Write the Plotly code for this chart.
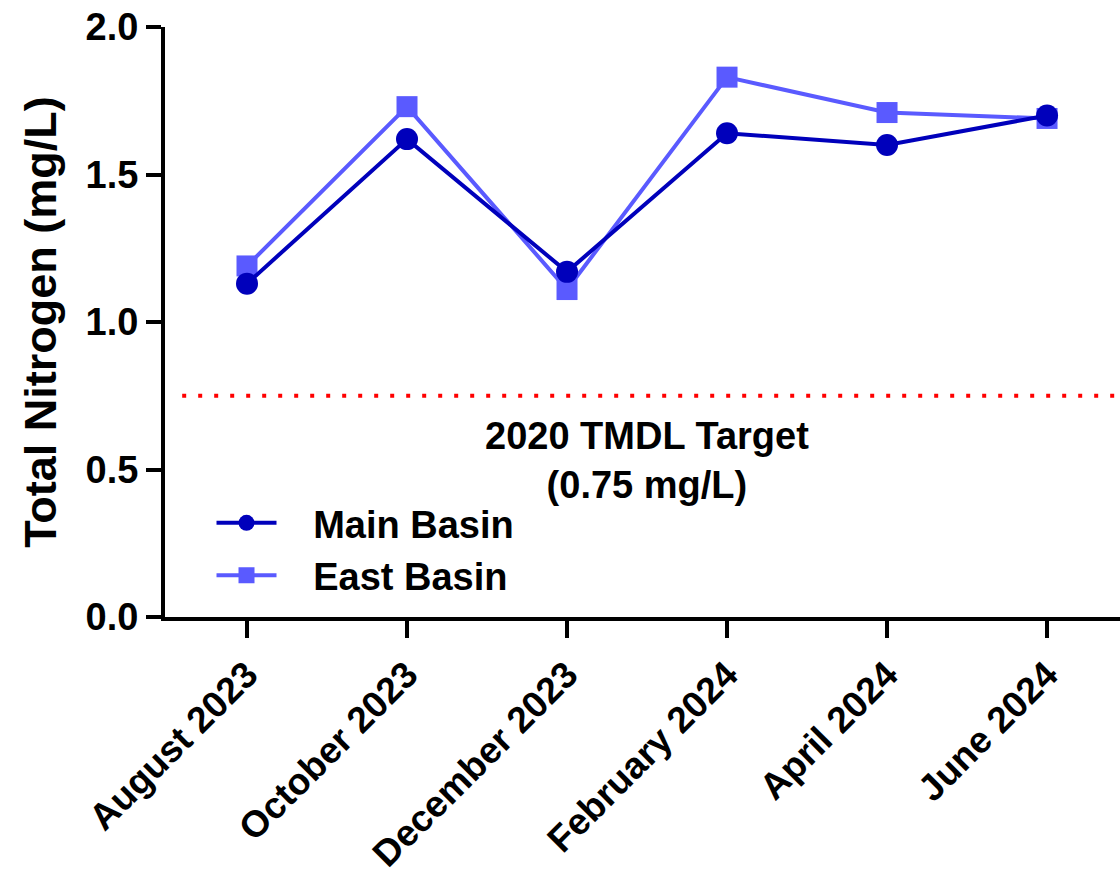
import plotly.graph_objects as go

months = ["August 2023", "October 2023", "December 2023", "February 2024", "April 2024", "June 2024"]
main_basin = [1.13, 1.62, 1.17, 1.64, 1.60, 1.70]
east_basin = [1.19, 1.73, 1.11, 1.83, 1.71, 1.69]
target_value = 0.75
target_label = "2020 TMDL Target<br>(0.75 mg/L)"
y_ticks = [0.0, 0.5, 1.0, 1.5, 2.0]
y_tick_text = ["0.0", "0.5", "1.0", "1.5", "2.0"]

MAIN_COLOR = "#0000BB"
EAST_COLOR = "#5A5AFF"
FONT = "Liberation Sans, Arial, sans-serif"
GAP = "\u00a0\u00a0\u00a0"

fig = go.Figure()
fig.add_trace(go.Scatter(
    x=months, y=east_basin, name=GAP + "East Basin", mode="lines+markers",
    line=dict(color=EAST_COLOR, width=4),
    marker=dict(symbol="square", size=21, color=EAST_COLOR),
))
fig.add_trace(go.Scatter(
    x=months, y=main_basin, name=GAP + "Main Basin", mode="lines+markers",
    line=dict(color=MAIN_COLOR, width=4),
    marker=dict(symbol="circle", size=22, color=MAIN_COLOR),
))

fig.add_shape(type="line", xref="paper", yref="y", x0=0.018, x1=1.0,
              y0=target_value, y1=target_value,
              line=dict(color="#FF0000", width=4, dash="4px,12px"))

fig.add_annotation(x=2.5, y=0.532, xref="x", yref="y", text=target_label,
                   showarrow=False, xanchor="center", yanchor="middle",
                   font=dict(family=FONT, size=38, color="black", weight="bold"))

fig.update_layout(
    width=1120, height=883,
    margin=dict(l=165, r=0, t=27, b=266, autoexpand=False),
    paper_bgcolor="white", plot_bgcolor="white",
    font=dict(family=FONT, size=38, color="black", weight="bold"),
    legend=dict(x=0.0487, y=0.2125, xanchor="left", yanchor="top",
                traceorder="reversed", bgcolor="rgba(0,0,0,0)",
                font=dict(family=FONT, size=38, color="black", weight="bold"),
                itemwidth=60),
    xaxis=dict(
        type="category", range=[-0.5125, 5.456], automargin=False,
        showline=True, linecolor="black", linewidth=4,
        ticks="outside", ticklen=17, tickwidth=4, tickcolor="black",
        tickangle=-45, tickfont=dict(family=FONT, size=37, weight="bold"),
        ticklabeloverflow="allow",
        showgrid=False, zeroline=False,
    ),
    yaxis=dict(
        range=[0, 2.0], tickvals=y_ticks, ticktext=y_tick_text, automargin=False,
        showline=True, linecolor="black", linewidth=4,
        ticks="outside", ticklen=15, tickwidth=4, tickcolor="black",
        tickfont=dict(family=FONT, size=38, weight="bold"),
        ticklabeloverflow="allow",
        showgrid=False, zeroline=False,
        title=dict(text="Total Nitrogen (mg/L)", standoff=16,
                   font=dict(family=FONT, size=45, weight="bold")),
    ),
    showlegend=True,
)

fig.write_html("out.html", config={"displayModeBar": False},
               post_script="document.body.style.margin='0';document.body.style.overflow='hidden';")
